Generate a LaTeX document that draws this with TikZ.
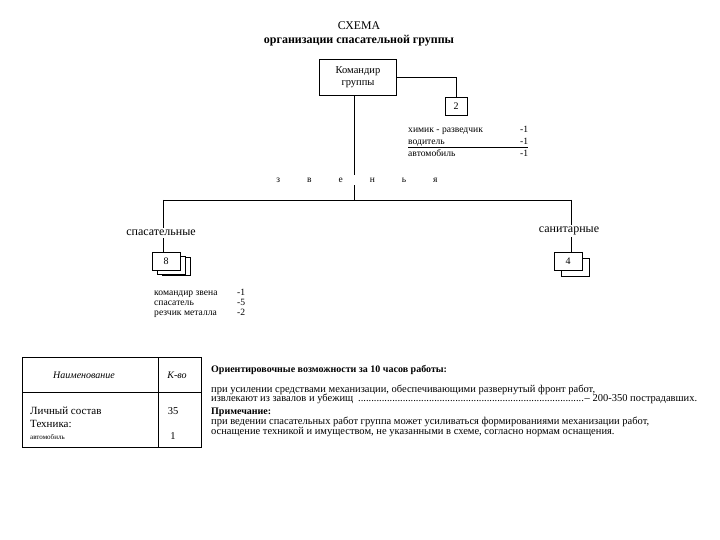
\documentclass[tikz,border=0pt]{standalone}
\usepackage{fontspec}
\setmainfont{Liberation Serif}
\begin{document}
\begin{tikzpicture}[x=1pt,y=-1pt,
  ln/.style={line width=0.7pt},
  box/.style={draw, line width=0.8pt, fill=white, inner sep=0pt},
  lst/.style={inner sep=0pt, anchor=base west, font=\fontsize{9.6}{11}\selectfont},
  lstb/.style={inner sep=0pt, anchor=base west, font=\fontsize{9.8}{11}\selectfont},
  lbl/.style={fill=white, inner sep=2pt, font=\fontsize{12}{14}\selectfont},
  body/.style={inner sep=0pt, anchor=base west, font=\fontsize{10.5}{12}\selectfont},
  head/.style={inner sep=0pt, anchor=base west, font=\bfseries\fontsize{10}{12}\selectfont}]
\useasboundingbox (0,0) rectangle (720,540);

% title
\node[inner sep=0pt, font=\fontsize{11.8}{14}\selectfont] (title) at (359,26) {СХЕМА};
\node[inner sep=0pt, font=\bfseries\fontsize{12}{14}\selectfont] (sub) at (359,41) {организации спасательной группы};

% commander
\node[box, minimum width=77pt, minimum height=36pt, align=center,
      font=\fontsize{10.5}{12}\selectfont] (cmd) at (358,77) {Командир\\группы};
\node[box, minimum width=22pt, minimum height=18pt, font=\fontsize{10}{11}\selectfont] (n2) at (456,106) {2};
\draw[ln] (cmd.east) -- (cmd.east -| n2.north) -- (n2.north);

% list of commander group
\node[lst] (l1) at (408,133) {химик - разведчик};
\node[lst] (l2) at (408,145) {водитель};
\node[lst] (l3) at (408,157) {автомобиль};
\node[lst] (c1) at (520,133) {-1};
\node[lst] (c2) at (520,145) {-1};
\node[lst] (c3) at (520,157) {-1};
\coordinate (ul1) at (408,147.5);
\coordinate (ul2) at (528,147.5);
\draw[line width=1.3pt] (ul1) -- (ul2);

% trunk
\coordinate (jn) at (354,200);
\coordinate (L) at (163,200);
\coordinate (R) at (571,200);
\node[inner sep=3pt, font=\fontsize{9.5}{11}\selectfont] (zv) at (357,180)
  {з\hspace{27pt}в\hspace{27pt}е\hspace{27pt}н\hspace{27pt}ь\hspace{27pt}я};
\draw[ln] (cmd.south -| jn) -- (zv.north -| jn);
\draw[ln] (zv.south -| jn) -- (jn);
\draw[ln] (L) -- (R);

% left branch
\node[lbl] (spas) at (161,233) {спасательные};
\draw[box] (162,257) rectangle (190,275);
\draw[box] (157,256) rectangle (185,274);
\node[box, minimum width=28pt, minimum height=18pt, font=\fontsize{10}{11}\selectfont] (b8) at (166,261) {8};
\draw[ln] (L) -- (L |- spas.north);
\draw[ln] (L |- spas.south) -- (L |- b8.north);

% right branch
\node[lbl] (san) at (569,231) {санитарные};
\draw[box] (561,258) rectangle (589,276);
\node[box, minimum width=28pt, minimum height=18pt, font=\fontsize{10}{11}\selectfont] (b4) at (568,261) {4};
\draw[ln] (R) -- (R |- san.north);
\draw[ln] (R |- san.south) -- (R |- b4.north);

% zveno list
\node[lst] (z1) at (154,295) {командир звена};
\node[lst] (z2) at (154,305) {спасатель};
\node[lst] (z3) at (154,315) {резчик металла};
\node[lst] (zc1) at (237,295) {-1};
\node[lst] (zc2) at (237,305) {-5};
\node[lst] (zc3) at (237,315) {-2};

% table
\draw[line width=0.8pt] (22,357) rectangle (201,447);
\draw[line width=0.8pt] (22,392) -- (201,392);
\draw[line width=0.8pt] (158,357) -- (158,447);
\node[inner sep=0pt, font=\itshape\fontsize{10}{11}\selectfont] (th1) at (84,375) {Наименование};
\node[inner sep=0pt, font=\itshape\fontsize{10}{11}\selectfont] (th2) at (177,375) {К-во};
\node[inner sep=0pt, anchor=base west, font=\fontsize{11}{12}\selectfont] (tr1) at (30,414) {Личный состав};
\node[inner sep=0pt, anchor=base west, font=\fontsize{11}{12}\selectfont] (tr2) at (30,427) {Техника:};
\node[inner sep=0pt, anchor=base west, font=\fontsize{7}{8}\selectfont] (tr3) at (30,439) {автомобиль};
\node[inner sep=0pt, font=\fontsize{10.5}{12}\selectfont] (tv1) at (173,411) {35};
\node[inner sep=0pt, font=\fontsize{10.5}{12}\selectfont] (tv2) at (173,436) {1};

% right text
\node[head] (h1) at (211,372) {Ориентировочные возможности за 10 часов работы:};
\node[body] (p1) at (211,392) {при усилении средствами механизации, обеспечивающими развернутый фронт работ,};
\node[body] (p2) at (211,401) {\makebox[486pt][l]{извлекают из завалов и убежищ \leaders\hbox{.}\hfill– 200-350 пострадавших.}};
\node[head] (h2) at (211,414) {Примечание:};
\node[body] (p3) at (211,424) {при ведении спасательных работ группа может усиливаться формированиями механизации работ,};
\node[body] (p4) at (211,434) {оснащение техникой и имуществом, не указанными в схеме, согласно нормам оснащения.};
\end{tikzpicture}
\end{document}
